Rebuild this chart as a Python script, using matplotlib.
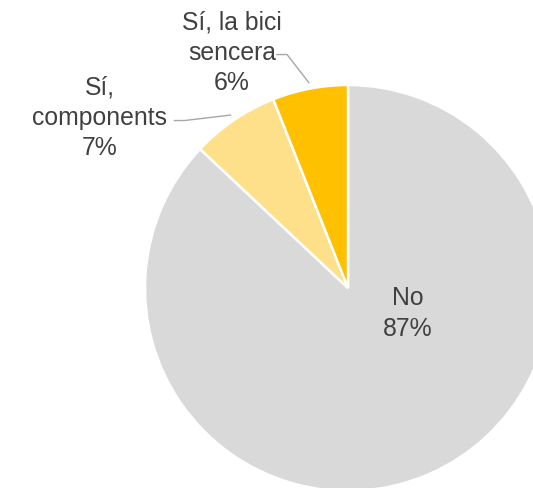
import matplotlib

matplotlib.use("Agg")
import numpy as np
import matplotlib.pyplot as plt

# data (clockwise from 12 o'clock, as in the original)
labels = ["No", "Sí,\ncomponents", "Sí, la bici\nsencera"]
shares = [87, 7, 6]
colors = ["#D9D9D9", "#FFE08A", "#FFC000"]

# label placement in pie-radius units, and leader elbows (None = inside)
label_pos = [(0.295, -0.125), (-1.224, 0.838), (-0.572, 1.16)]
elbows = [None, [(-0.855, 0.825), (-0.805, 0.825)], [(-0.350, 1.150), (-0.300, 1.150)]]

W, H = 533, 488
cx, cy, r = 348, 288, 203  # pie centre / radius in pixels

fig = plt.figure(figsize=(W / 100, H / 100), dpi=100)
ax = fig.add_axes([(cx - r) / W, (H - cy - r) / H, 2 * r / W, 2 * r / H])

wedges, _ = ax.pie(shares, colors=colors, startangle=90, counterclock=False,
                   wedgeprops=dict(edgecolor="white", linewidth=1.8))
ax.set_xlim(-1, 1)
ax.set_ylim(-1, 1)
ax.axis("off")

txt_kw = dict(ha="center", va="center", fontsize=17.8, color="#404040",
              family="Liberation Sans", linespacing=1.33, clip_on=False)

for w, lab, val, pos, elb in zip(wedges, labels, shares, label_pos, elbows):
    ax.text(pos[0], pos[1], f"{lab}\n{val}%", **txt_kw)
    if elb is not None:
        mid = np.deg2rad((w.theta1 + w.theta2) / 2)
        end = (1.03 * np.cos(mid), 1.03 * np.sin(mid))
        xs = [elb[0][0], elb[1][0], end[0]]
        ys = [elb[0][1], elb[1][1], end[1]]
        ax.plot(xs, ys, color="#A6A6A6", lw=1.0, clip_on=False)

fig.savefig("out.png", dpi=100)
